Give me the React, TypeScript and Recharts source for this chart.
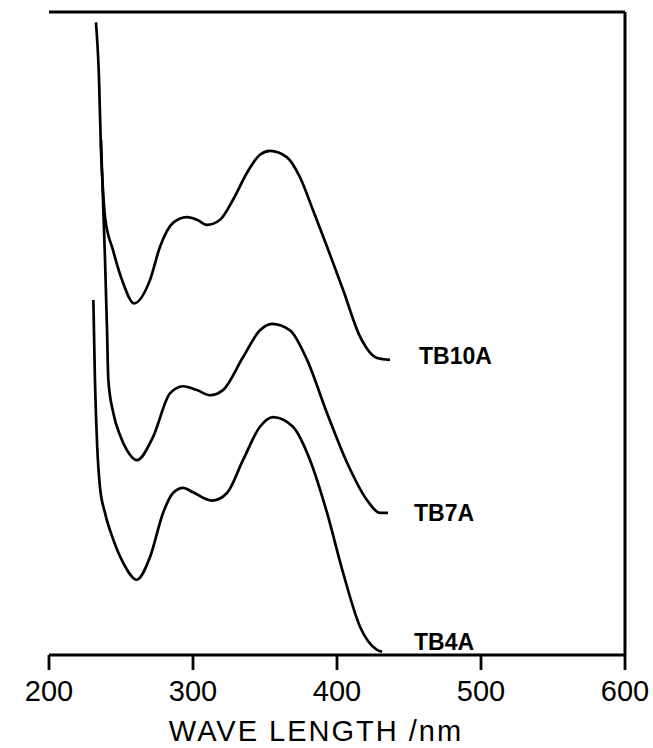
import React from 'react';
import { LineChart, Line, XAxis, YAxis, ReferenceLine, LabelList } from 'recharts';

// wavelength (nm) and absorption (arbitrary units, 0-10)
const tb10aWave = [232.6, 234.7, 236.1, 237.5, 238.9, 244.4, 251.4, 259.0, 270.1, 277.1, 286.1, 295.8, 302.8, 309.7, 318.8, 327.8, 337.5, 346.5, 353.5, 365.3, 374.3, 383.3, 393.1, 404.2, 416.0, 427.8, 436.8];
const tb10aAbs = [9.84, 8.99, 7.85, 7.23, 6.81, 6.30, 5.79, 5.47, 5.83, 6.35, 6.72, 6.81, 6.77, 6.69, 6.77, 7.08, 7.50, 7.78, 7.84, 7.74, 7.43, 6.92, 6.35, 5.68, 4.95, 4.62, 4.59];

const tb7aWave = [236.1, 237.5, 238.9, 240.3, 241.2, 244.7, 249.3, 254.0, 261.0, 272.2, 284.0, 293.1, 302.8, 311.8, 320.8, 334.7, 346.5, 354.9, 367.4, 379.2, 393.1, 407.0, 420.8, 429.9, 435.4];
const tb7aAbs = [8.01, 7.08, 6.15, 5.05, 4.28, 3.76, 3.42, 3.19, 3.03, 3.39, 4.07, 4.18, 4.12, 4.04, 4.12, 4.63, 5.05, 5.15, 5.05, 4.59, 3.76, 2.99, 2.41, 2.21, 2.21];

const tb4aWave = [230.8, 231.9, 233.5, 235.4, 238.9, 244.7, 251.6, 260.9, 270.1, 279.2, 286.1, 293.1, 300.0, 313.2, 323.6, 334.7, 346.5, 355.6, 369.4, 381.3, 393.1, 404.2, 416.0, 427.8, 431.3];
const tb4aAbs = [5.52, 4.28, 3.23, 2.61, 2.21, 1.79, 1.43, 1.17, 1.52, 2.21, 2.52, 2.60, 2.53, 2.40, 2.52, 3.03, 3.55, 3.70, 3.55, 3.03, 2.21, 1.28, 0.44, 0.08, 0.05];

const xTicks = [200, 300, 400, 500, 600];

const toPoints = (wave: number[], abs: number[]) => wave.map((w, i) => ({ wave: w, abs: abs[i] }));

const series = [
  { name: 'TB10A', data: toPoints(tb10aWave, tb10aAbs), dx: 29, dy: -4 },
  { name: 'TB7A', data: toPoints(tb7aWave, tb7aAbs), dx: 26, dy: 0 },
  { name: 'TB4A', data: toPoints(tb4aWave, tb4aAbs), dx: 32, dy: -10 },
];

const FONT = '"Liberation Sans", Arial, sans-serif';

const endLabel = (name: string, n: number, dx: number, dy: number) => (props: any) => {
  if (props.index !== n - 1) return null;
  return (
    <text x={props.x + dx} y={props.y + dy} dominantBaseline="central" fontFamily={FONT}
      fontWeight="bold" fontSize={23} fill="#000">
      {name}
    </text>
  );
};

export default function App() {
  return (
    <div style={{ position: 'absolute', left: 0, top: 0, background: '#fff' }}>
      <LineChart width={653} height={748} margin={{ top: 12, right: 28, bottom: 0, left: 49 }}>
        <XAxis
          dataKey="wave"
          type="number"
          domain={[200, 600]}
          ticks={xTicks}
          height={93}
          allowDataOverflow
          axisLine={{ stroke: '#000', strokeWidth: 3.2 }}
          tickLine={{ stroke: '#000', strokeWidth: 2.8 }}
          tickSize={15}
          tickMargin={10}
          tick={{ fill: '#000', fontSize: 29, fontFamily: FONT }}
          label={{
            content: ({ viewBox }: any) => (
              <text x={viewBox.x + viewBox.width / 2 - 21} y={viewBox.y + viewBox.height - 7}
                textAnchor="middle" fontFamily={FONT} fontSize={29} letterSpacing={2} fill="#000">
                WAVE LENGTH /nm
              </text>
            ),
          }}
        />
        <YAxis
          dataKey="abs"
          type="number"
          domain={[0, 10]}
          width={0}
          tick={false}
          tickLine={false}
          allowDataOverflow
          axisLine={{ stroke: '#000', strokeWidth: 3.2 }}
          label={{
            content: ({ viewBox }: any) => {
              const cx = viewBox.x - 29;
              const cy = viewBox.y + viewBox.height / 2 - 7;
              return (
                <text x={cx} y={cy} transform={`rotate(-90 ${cx} ${cy})`} textAnchor="middle"
                  dominantBaseline="central" fontFamily={FONT} fontSize={23} letterSpacing={3.5} fill="#000">
                  ABSORPTION
                </text>
              );
            },
          }}
        />
        <ReferenceLine y={10} stroke="#000" strokeWidth={3} ifOverflow="extendDomain" />
        <ReferenceLine x={600} stroke="#000" strokeWidth={3} />
        {series.map((s) => (
          <Line
            key={s.name}
            data={s.data}
            dataKey="abs"
            type="monotoneX"
            stroke="#000"
            strokeWidth={2.7}
            dot={false}
            activeDot={false}
            isAnimationActive={false}
          >
            <LabelList dataKey="abs" content={endLabel(s.name, s.data.length, s.dx, s.dy)} />
          </Line>
        ))}
      </LineChart>
    </div>
  );
}
